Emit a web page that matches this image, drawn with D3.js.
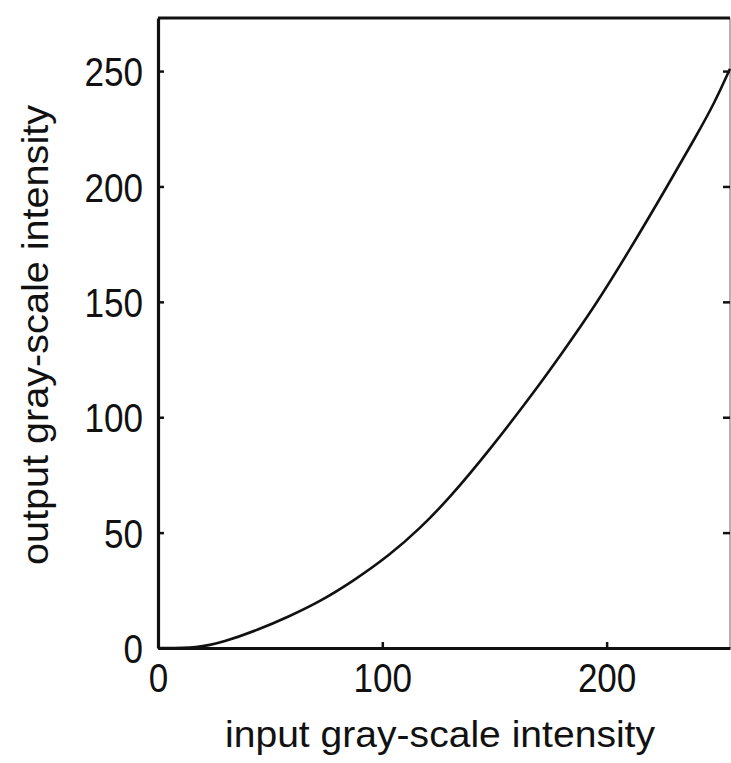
<!DOCTYPE html>
<html>
<head>
<meta charset="utf-8">
<script src="https://cdn.jsdelivr.net/npm/d3@7/dist/d3.min.js"></script>
<style>
  html, body { margin: 0; padding: 0; background: #fff; }
  svg { display: block; }
</style>
</head>
<body>
<svg id="chart" width="731" height="763"></svg>
<script>
// Data
const inputIntensity  = [0, 18, 29, 45, 58, 72, 87, 103, 117, 130, 148, 167, 181, 194, 210, 227, 240, 248, 255];
const outputIntensity = [0, 0, 2.5, 8, 13.5, 20, 29, 40, 52, 65, 86, 110, 129, 147, 172, 200, 222, 236, 251];
const xTicks = [0, 100, 200];
const yTicks = [0, 50, 100, 150, 200, 250];
const xTitle = "input gray-scale intensity";
const yTitle = "output gray-scale intensity";

const svg = d3.select("#chart");
const W = 731, H = 763;
const m = { left: 158, top: 18, right: 1, bottom: 115 };

const x = d3.scaleLinear().domain([0, 255]).range([m.left, W - m.right]);
const y = d3.scaleLinear().domain([0, 273]).range([H - m.bottom, m.top]);

const font = "'Liberation Sans', Arial, sans-serif";
const digitW = 19.5;

// Right border (thin gray) and top border (black)
svg.append("line")
  .attr("x1", x(255)).attr("x2", x(255))
  .attr("y1", y(273)).attr("y2", y(0))
  .attr("stroke", "#9a9a9a").attr("stroke-width", 1.5);
svg.append("line")
  .attr("x1", x(0)).attr("x2", x(255))
  .attr("y1", y(273)).attr("y2", y(273))
  .attr("stroke", "#111").attr("stroke-width", 3);

// Right side inward ticks
const rightAxis = d3.axisRight(y).tickValues(yTicks.filter(d => d > 0)).tickSize(7).tickFormat("");
svg.append("g")
  .attr("transform", `translate(${x(255) - 7},0)`)
  .call(rightAxis)
  .call(g => g.select(".domain").remove())
  .call(g => g.selectAll(".tick line").attr("stroke", "#111").attr("stroke-width", 2.5));

// Left axis with inward ticks
const leftAxis = d3.axisLeft(y).tickValues(yTicks).tickSize(-6).tickPadding(15).tickSizeOuter(0);
svg.append("g")
  .attr("transform", `translate(${x(0)},0)`)
  .call(leftAxis)
  .call(g => g.select(".domain").attr("stroke", "#111").attr("stroke-width", 3.2))
  .call(g => g.selectAll(".tick line").attr("stroke", "#111").attr("stroke-width", 2.5))
  .call(g => g.selectAll(".tick text")
    .attr("font-family", font).attr("font-size", 41).attr("fill", "#111")
    .attr("dy", "0.36em")
    .attr("textLength", d => String(d).length * digitW)
    .attr("lengthAdjust", "spacingAndGlyphs"));

// Bottom axis with inward ticks
const bottomAxis = d3.axisBottom(x).tickValues(xTicks).tickSize(-6).tickPadding(15).tickSizeOuter(0);
svg.append("g")
  .attr("transform", `translate(0,${y(0)})`)
  .call(bottomAxis)
  .call(g => g.select(".domain").attr("stroke", "#111").attr("stroke-width", 3.2))
  .call(g => g.selectAll(".tick line").attr("stroke", "#111").attr("stroke-width", 2.5))
  .call(g => g.selectAll(".tick text")
    .attr("font-family", font).attr("font-size", 41).attr("fill", "#111")
    .attr("dy", "0.71em")
    .attr("textLength", d => String(d).length * digitW)
    .attr("lengthAdjust", "spacingAndGlyphs"));

// Curve
const pts = inputIntensity.map((v, i) => [v, outputIntensity[i]]);
const line = d3.line().x(d => x(d[0])).y(d => y(d[1])).curve(d3.curveBasis);
svg.append("path")
  .datum(pts)
  .attr("d", line)
  .attr("fill", "none")
  .attr("stroke", "#111")
  .attr("stroke-width", 2.6);

// Axis titles
svg.append("text")
  .attr("x", 440).attr("y", 747)
  .attr("text-anchor", "middle")
  .attr("font-family", font)
  .attr("font-size", 37)
  .attr("fill", "#111")
  .attr("textLength", 430)
  .attr("lengthAdjust", "spacingAndGlyphs")
  .text(xTitle);

svg.append("text")
  .attr("transform", "translate(48,335) rotate(-90)")
  .attr("text-anchor", "middle")
  .attr("font-family", font)
  .attr("font-size", 37)
  .attr("fill", "#111")
  .attr("textLength", 460)
  .attr("lengthAdjust", "spacingAndGlyphs")
  .text(yTitle);
</script>
</body>
</html>
